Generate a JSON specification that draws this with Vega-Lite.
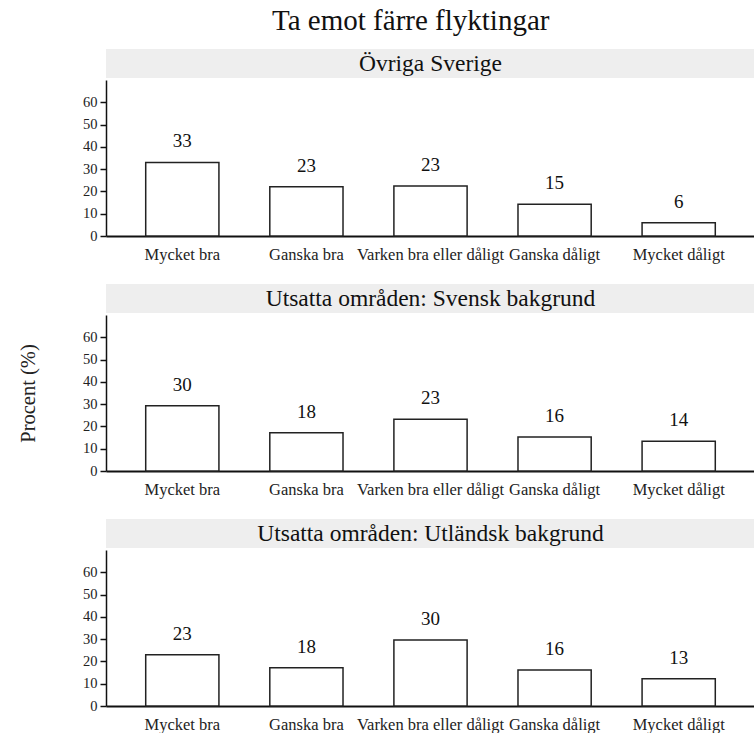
{
  "$schema": "https://vega.github.io/schema/vega-lite/v6.json",
  "padding": {"left": 18, "top": 7, "right": 0, "bottom": 0},
  "title": {"text": "Ta emot färre flyktingar", "font": "Liberation Serif", "fontSize": 29, "fontWeight": "normal", "color": "#111", "anchor": "middle", "offset": 13, "dx": 24},
  "config": {
    "font": "Liberation Serif",
    "text": {"font": "Liberation Serif"},
    "view": {"stroke": null},
    "axis": {"labelFont": "Liberation Serif", "titleFont": "Liberation Serif", "labelColor": "#222", "titleColor": "#222", "domainColor": "#111", "tickColor": "#111", "grid": false}
  },
  "datasets": {
    "bars": [
      {"panel": "Övriga Sverige", "cat": "Mycket bra", "value": 33.0, "label": "33"},
      {"panel": "Övriga Sverige", "cat": "Ganska bra", "value": 22.1, "label": "23"},
      {"panel": "Övriga Sverige", "cat": "Varken bra eller dåligt", "value": 22.4, "label": "23"},
      {"panel": "Övriga Sverige", "cat": "Ganska dåligt", "value": 14.3, "label": "15"},
      {"panel": "Övriga Sverige", "cat": "Mycket dåligt", "value": 6.0, "label": "6"},
      {"panel": "Utsatta områden: Svensk bakgrund", "cat": "Mycket bra", "value": 29.3, "label": "30"},
      {"panel": "Utsatta områden: Svensk bakgrund", "cat": "Ganska bra", "value": 17.2, "label": "18"},
      {"panel": "Utsatta områden: Svensk bakgrund", "cat": "Varken bra eller dåligt", "value": 23.2, "label": "23"},
      {"panel": "Utsatta områden: Svensk bakgrund", "cat": "Ganska dåligt", "value": 15.3, "label": "16"},
      {"panel": "Utsatta områden: Svensk bakgrund", "cat": "Mycket dåligt", "value": 13.3, "label": "14"},
      {"panel": "Utsatta områden: Utländsk bakgrund", "cat": "Mycket bra", "value": 23.0, "label": "23"},
      {"panel": "Utsatta områden: Utländsk bakgrund", "cat": "Ganska bra", "value": 17.2, "label": "18"},
      {"panel": "Utsatta områden: Utländsk bakgrund", "cat": "Varken bra eller dåligt", "value": 29.6, "label": "30"},
      {"panel": "Utsatta områden: Utländsk bakgrund", "cat": "Ganska dåligt", "value": 16.1, "label": "16"},
      {"panel": "Utsatta områden: Utländsk bakgrund", "cat": "Mycket dåligt", "value": 12.2, "label": "13"}
    ],
    "panels": [
      {"panel": "Övriga Sverige"},
      {"panel": "Utsatta områden: Svensk bakgrund"},
      {"panel": "Utsatta områden: Utländsk bakgrund"}
    ]
  },
  "spacing": 21,
  "vconcat": [
    {
      "spacing": 2,
      "vconcat": [
        {
          "data": {"name": "panels"},
          "transform": [{"filter": "datum.panel === 'Övriga Sverige'"}],
          "width": 649, "height": 29,
          "view": {"fill": "#eeeeee", "stroke": null},
          "mark": {"type": "text", "font": "Liberation Serif", "fontSize": 23.5, "color": "#111"},
          "encoding": {"text": {"field": "panel"}}
        },
        {
          "data": {"name": "bars"},
          "transform": [{"filter": "datum.panel === 'Övriga Sverige'"}],
          "width": 649, "height": 156,
          "encoding": {
            "x": {"field": "cat", "type": "nominal", "sort": ["Mycket bra", "Ganska bra", "Varken bra eller dåligt", "Ganska dåligt", "Mycket dåligt"], "scale": {"paddingInner": 0.41, "paddingOuter": 0.32}, "axis": {"title": null, "labelAngle": 0, "ticks": false, "domainWidth": 2, "labelFontSize": 16.5, "labelPadding": 10}},
            "y": {"field": "value", "type": "quantitative", "scale": {"domain": [0, 70], "nice": false}, "axis": {"title": null, "values": [0, 10, 20, 30, 40, 50, 60], "tickSize": 6, "domainWidth": 1.5, "tickWidth": 1.5, "labelFontSize": 14.5, "labelPadding": 3}}
          },
          "layer": [
            {"mark": {"type": "bar", "fill": "white", "stroke": "#222", "strokeWidth": 1.5}},
            {"mark": {"type": "text", "font": "Liberation Serif", "fontSize": 19, "dy": -15, "baseline": "alphabetic", "color": "#111"}, "encoding": {"text": {"field": "label"}}}
          ]
        }
      ]
    },
    {
      "spacing": 2,
      "vconcat": [
        {
          "data": {"name": "panels"},
          "transform": [{"filter": "datum.panel === 'Utsatta områden: Svensk bakgrund'"}],
          "width": 649, "height": 29,
          "view": {"fill": "#eeeeee", "stroke": null},
          "mark": {"type": "text", "font": "Liberation Serif", "fontSize": 23.5, "color": "#111"},
          "encoding": {"text": {"field": "panel"}}
        },
        {
          "data": {"name": "bars"},
          "transform": [{"filter": "datum.panel === 'Utsatta områden: Svensk bakgrund'"}],
          "width": 649, "height": 156,
          "encoding": {
            "x": {"field": "cat", "type": "nominal", "sort": ["Mycket bra", "Ganska bra", "Varken bra eller dåligt", "Ganska dåligt", "Mycket dåligt"], "scale": {"paddingInner": 0.41, "paddingOuter": 0.32}, "axis": {"title": null, "labelAngle": 0, "ticks": false, "domainWidth": 2, "labelFontSize": 16.5, "labelPadding": 10}},
            "y": {"field": "value", "type": "quantitative", "scale": {"domain": [0, 70], "nice": false}, "axis": {"title": "Procent (%)", "titleFontSize": 20.5, "titleFontWeight": "normal", "titlePadding": 44, "values": [0, 10, 20, 30, 40, 50, 60], "tickSize": 6, "domainWidth": 1.5, "tickWidth": 1.5, "labelFontSize": 14.5, "labelPadding": 3}}
          },
          "layer": [
            {"mark": {"type": "bar", "fill": "white", "stroke": "#222", "strokeWidth": 1.5}},
            {"mark": {"type": "text", "font": "Liberation Serif", "fontSize": 19, "dy": -15, "baseline": "alphabetic", "color": "#111"}, "encoding": {"text": {"field": "label"}}}
          ]
        }
      ]
    },
    {
      "spacing": 2,
      "vconcat": [
        {
          "data": {"name": "panels"},
          "transform": [{"filter": "datum.panel === 'Utsatta områden: Utländsk bakgrund'"}],
          "width": 649, "height": 29,
          "view": {"fill": "#eeeeee", "stroke": null},
          "mark": {"type": "text", "font": "Liberation Serif", "fontSize": 23.5, "color": "#111"},
          "encoding": {"text": {"field": "panel"}}
        },
        {
          "data": {"name": "bars"},
          "transform": [{"filter": "datum.panel === 'Utsatta områden: Utländsk bakgrund'"}],
          "width": 649, "height": 156,
          "encoding": {
            "x": {"field": "cat", "type": "nominal", "sort": ["Mycket bra", "Ganska bra", "Varken bra eller dåligt", "Ganska dåligt", "Mycket dåligt"], "scale": {"paddingInner": 0.41, "paddingOuter": 0.32}, "axis": {"title": null, "labelAngle": 0, "ticks": false, "domainWidth": 2, "labelFontSize": 16.5, "labelPadding": 10}},
            "y": {"field": "value", "type": "quantitative", "scale": {"domain": [0, 70], "nice": false}, "axis": {"title": null, "values": [0, 10, 20, 30, 40, 50, 60], "tickSize": 6, "domainWidth": 1.5, "tickWidth": 1.5, "labelFontSize": 14.5, "labelPadding": 3}}
          },
          "layer": [
            {"mark": {"type": "bar", "fill": "white", "stroke": "#222", "strokeWidth": 1.5}},
            {"mark": {"type": "text", "font": "Liberation Serif", "fontSize": 19, "dy": -15, "baseline": "alphabetic", "color": "#111"}, "encoding": {"text": {"field": "label"}}}
          ]
        }
      ]
    }
  ]
}
